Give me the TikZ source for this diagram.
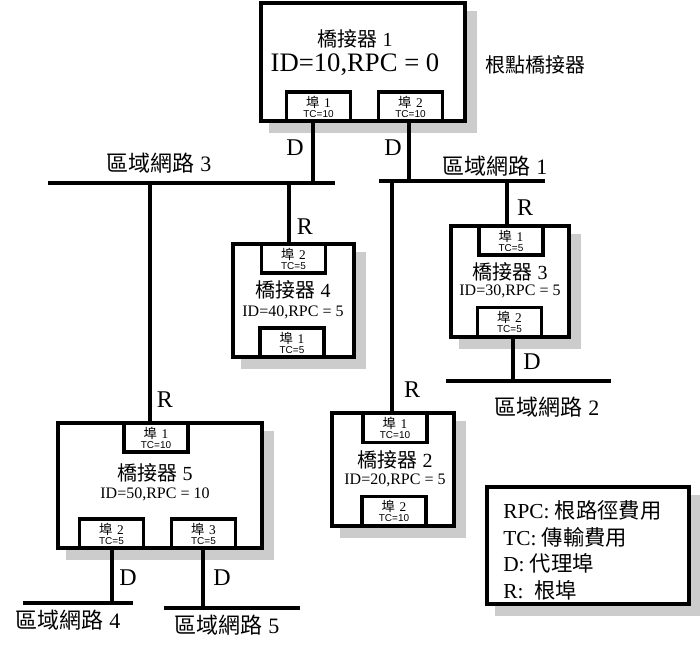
\documentclass[tikz,border=0pt]{standalone}
\usepackage{fontspec}
\setmainfont{Liberation Serif}
\newfontfamily\cjk{Noto Sans CJK TC}
\newfontfamily\tcfont{Liberation Sans}
\usetikzlibrary{backgrounds}
\newcommand{\zh}[1]{{\cjk #1}}
\newcommand{\porttext}[2]{\zh{埠}\hspace{3.5pt}#1\\[-2.5pt]{\tcfont\fontsize{7.5}{7.5}\selectfont TC=#2}}

\begin{document}
\begin{tikzpicture}[x=0.75pt,y=0.75pt,yscale=-1,xscale=1,
  wire/.style={line width=2.3pt},
  bridge/.style={draw,line width=2.3pt,fill=white,inner sep=0pt},
  port/.style={draw,line width=2.3pt,fill=white,inner sep=0pt,minimum width=48pt,minimum height=21.75pt,
    align=center,font=\fontsize{10}{10}\selectfont},
  title/.style={inner sep=0.75pt,font=\fontsize{15}{18}\selectfont},
  idtext/.style={inner sep=0.75pt,font=\fontsize{12}{14}\selectfont},
  dr/.style={inner sep=0.75pt,font=\fontsize{18}{20}\selectfont},
  lan/.style={inner sep=0.75pt,font=\fontsize{16.5}{18}\selectfont},
  legtext/.style={inner sep=0pt,anchor=west,font=\fontsize{16}{18}\selectfont},
  shadowfill/.style={fill=black!20,draw=none}]
\useasboundingbox (0,0) rectangle (700,647);

%Bridges
\node[bridge,minimum width=153pt,minimum height=88.5pt] (b1) at (363,62) {};
\node[bridge,minimum width=90.75pt,minimum height=84.75pt] (b4) at (293.5,300.5) {};
\node[bridge,minimum width=88.5pt,minimum height=83.25pt] (b3) at (510,281.5) {};
\node[bridge,minimum width=91.5pt,minimum height=84.75pt] (b2) at (393,469.5) {};
\node[bridge,minimum width=153pt,minimum height=93.75pt] (b5) at (160,485.5) {};
%Legend box
\node[bridge,minimum width=151.5pt,minimum height=87.75pt] (leg) at (588,545.5) {};

%Ports
\node[port] (p11) at (318.5,106.5) {\porttext{1}{10}};
\node[port] (p12) at (410.5,106.5) {\porttext{2}{10}};
\node[port] (p42) at (293.5,258.5) {\porttext{2}{5}};
\node[port] (p41) at (292,342.5) {\porttext{1}{5}};
\node[port] (p31) at (511,240.5) {\porttext{1}{5}};
\node[port] (p32) at (509.5,322) {\porttext{2}{5}};
\node[port] (p21) at (395,428) {\porttext{1}{10}};
\node[port] (p22) at (394,511) {\porttext{2}{10}};
\node[port] (p51) at (156,437.5) {\porttext{1}{10}};
\node[port] (p52) at (111.5,533.5) {\porttext{2}{5}};
\node[port] (p53) at (203.5,533.5) {\porttext{3}{5}};

%LAN segments
\coordinate (l3w) at (48,183);  \coordinate (l3e) at (335,183);
\coordinate (l1w) at (379,181); \coordinate (l1e) at (545,181);
\coordinate (l2w) at (446,381); \coordinate (l2e) at (611,381);
\coordinate (l4w) at (23,603);  \coordinate (l4e) at (133,603);
\coordinate (l5w) at (164,608); \coordinate (l5e) at (300,608);
\draw[wire] (l3w) -- (l3e);
\draw[wire] (l1w) -- (l1e);
\draw[wire] (l2w) -- (l2e);
\draw[wire] (l4w) -- (l4e);
\draw[wire] (l5w) -- (l5e);

%Taps
\coordinate (t11) at (313,183);
\coordinate (t12) at (409,181);
\coordinate (t51) at (150,183);
\coordinate (t42) at (289,183);
\coordinate (t21) at (392,181);
\coordinate (t31) at (507,181);
\coordinate (t32) at (513,381);
\coordinate (t52) at (112,603);
\coordinate (t53) at (203,608);
\draw[wire] (t11) -- (t11 |- p11.south);
\draw[wire] (t12) -- (t12 |- p12.south);
\draw[wire] (t51) -- (t51 |- p51.north);
\draw[wire] (t42) -- (t42 |- p42.north);
\draw[wire] (t21) -- (t21 |- p21.north);
\draw[wire] (t31) -- (t31 |- p31.north);
\draw[wire] (t32) -- (t32 |- p32.south);
\draw[wire] (t52) -- (t52 |- p52.south);
\draw[wire] (t53) -- (t53 |- p53.south);

% Text Node
\node[title] (b1t) at (355,39) {\zh{橋接器} 1};
\node[inner sep=0.75pt,font=\fontsize{20}{24}\selectfont] (b1id) at (355,65) {ID=10,RPC = 0};
\node[inner sep=0.75pt,font=\fontsize{15}{18}\selectfont] (root) at (535,65) {\zh{根點橋接器}};
\node[title] (b4t) at (293,290) {\zh{橋接器} 4};
\node[idtext] (b4id) at (293,312) {ID=40,RPC = 5};
\node[title] (b3t) at (510,272) {\zh{橋接器} 3};
\node[idtext] (b3id) at (510,291) {ID=30,RPC = 5};
\node[title] (b2t) at (395,460) {\zh{橋接器} 2};
\node[idtext] (b2id) at (395,480) {ID=20,RPC = 5};
\node[title] (b5t) at (155,473) {\zh{橋接器} 5};
\node[idtext] (b5id) at (155,494) {ID=50,RPC = 10};

% D and R labels
\node[dr] (d11) at (295,148) {D};
\node[dr] (d12) at (393,148) {D};
\node[dr] (d32) at (532,362) {D};
\node[dr] (d52) at (128,578) {D};
\node[dr] (d53) at (222,578) {D};
\node[dr] (r42) at (305,227) {R};
\node[dr] (r31) at (525,208) {R};
\node[dr] (r21) at (412,390) {R};
\node[dr] (r51) at (165,400) {R};

% LAN labels
\node[lan] (n3) at (159,163) {\zh{區域網路} 3};
\node[lan] (n1) at (495,166) {\zh{區域網路} 1};
\node[lan] (n2) at (547,407) {\zh{區域網路} 2};
\node[lan] (n4) at (68,620) {\zh{區域網路} 4};
\node[lan] (n5) at (227,625) {\zh{區域網路} 5};

% Legend
\node[legtext] (leg1) at (503,510) {RPC: \zh{根路徑費用}};
\node[legtext] (leg2) at (503,537) {TC: \zh{傳輸費用}};
\node[legtext] (leg3) at (503,563) {D: \zh{代理埠}};
\node[legtext] (leg4) at (503,590) {R:\ \ \zh{根埠}};

%Shadows
\begin{pgfonlayer}{background}
\foreach \b in {b1,b2,b3,b4,b5,leg}
  \fill[shadowfill] ([shift={(10,10)}]\b.north west) rectangle ([shift={(10,10)}]\b.south east);
\end{pgfonlayer}
\end{tikzpicture}
\end{document}
